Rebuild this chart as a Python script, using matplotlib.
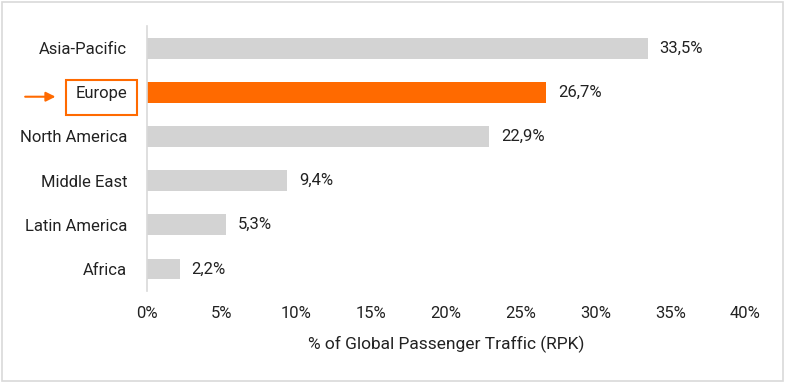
import matplotlib.pyplot as plt
from matplotlib.patches import Rectangle

regions = ["Asia-Pacific", "Europe", "North America", "Middle East", "Latin America", "Africa"]
share_pct = [33.5, 26.7, 22.9, 9.4, 5.3, 2.2]
highlight = "Europe"
x_ticks = [0, 5, 10, 15, 20, 25, 30, 35, 40]

ORANGE = "#FF6A00"
GRAY = "#D3D3D3"
plt.rcParams["font.family"] = ["Roboto", "DejaVu Sans"]

fig = plt.figure(figsize=(7.85, 3.83), dpi=100)
ax = fig.add_axes([0.187, 0.240, 0.762, 0.692])

ypos = list(range(len(regions)))[::-1]
colors = [ORANGE if r == highlight else GRAY for r in regions]
ax.barh(ypos, share_pct, height=0.47, color=colors)

for y, v in zip(ypos, share_pct):
    ax.text(v + 0.8, y, f"{v:.1f}%".replace(".", ","), va="center", ha="left",
            fontsize=12, color="#222222")

ax.set_xlim(0, 40)
ax.set_ylim(-0.5, len(regions) - 0.5)
ax.set_xticks(x_ticks)
ax.set_xticklabels([f"{t}%" for t in x_ticks], fontsize=12, color="#222222")
ax.set_yticks(ypos)
ax.set_yticklabels(regions, fontsize=12, color="#222222")
ax.tick_params(axis="both", length=0)
ax.tick_params(axis="x", pad=11)
ax.tick_params(axis="y", pad=14)
ax.set_xlabel("% of Global Passenger Traffic (RPK)", fontsize=12.5, color="#222222", labelpad=10)

for s in ["top", "right", "bottom"]:
    ax.spines[s].set_visible(False)
ax.spines["left"].set_color("#D9D9D9")
ax.spines["left"].set_linewidth(1.2)

# highlight box and arrow around the Europe label
ey = ypos[regions.index(highlight)]
ytr = ax.get_yaxis_transform()
ax.add_patch(Rectangle((-0.1355, ey - 0.52), 0.1185, 0.79, transform=ytr,
                       fill=False, edgecolor=ORANGE, lw=1.5, clip_on=False))
ax.annotate("", xy=(-0.148, ey - 0.1), xycoords=ytr,
            xytext=(-0.208, ey - 0.1), textcoords=ytr,
            arrowprops=dict(arrowstyle="-|>", color=ORANGE, lw=1.5, mutation_scale=14))

fig.patches.append(Rectangle((0.003, 0.005), 0.994, 0.99, transform=fig.transFigure,
                             fill=False, edgecolor="#D9D9D9", lw=1.2))

fig.savefig("out.png", dpi=100)
